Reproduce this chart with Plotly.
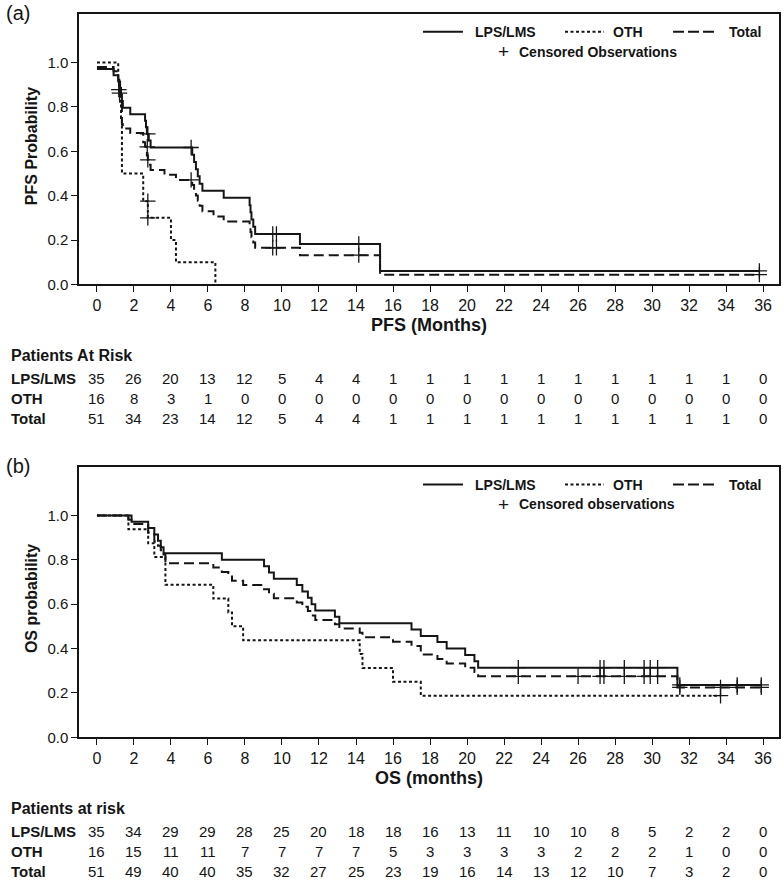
import plotly.graph_objects as go

W, H = 783, 893

# ---------------- data: panel (a) PFS ----------------
pfs_lps_t = [0, 0.9, 1.15, 1.25, 1.3, 1.35, 1.4, 1.8, 2.6, 2.65, 2.7, 2.8, 2.9, 5.15, 5.25, 5.35, 5.45,
             5.55, 5.7, 6.85, 8.25, 8.3, 8.35, 8.45, 8.55, 10.97, 15.3, 35.8]
pfs_lps_s = [0.971, 0.943, 0.914, 0.885, 0.855, 0.826, 0.796, 0.767, 0.737, 0.708, 0.678, 0.648, 0.617,
             0.584, 0.552, 0.519, 0.487, 0.454, 0.422, 0.390, 0.357, 0.325, 0.292, 0.260, 0.227, 0.182,
             0.061, 0.061]
pfs_lps_cens_t = [1.18, 2.75, 5.09, 9.5, 9.7, 14.15, 35.8]
pfs_lps_cens_s = [0.878, 0.678, 0.617, 0.227, 0.227, 0.182, 0.061]

pfs_oth_t = [0, 1.15, 1.2, 1.25, 1.3, 1.35, 2.5, 2.75, 4.0, 4.27, 6.4]
pfs_oth_s = [1.0, 0.9375, 0.875, 0.8125, 0.75, 0.5, 0.375, 0.30, 0.20, 0.10, 0.0]
pfs_oth_cens_t = [2.75, 2.75]
pfs_oth_cens_s = [0.375, 0.30]

pfs_tot_t = [0, 0.9, 1.15, 1.2, 1.25, 1.3, 1.35, 1.4, 1.8, 2.5, 2.6, 2.65, 2.7, 2.75, 2.8, 2.9, 3.65,
             4.27, 5.15, 5.25, 5.35, 5.45, 5.55, 5.7, 6.3, 6.85, 8.25, 8.3, 8.35, 8.45, 8.55, 10.97,
             15.3, 35.8]
pfs_tot_s = [0.980, 0.961, 0.922, 0.902, 0.862, 0.822, 0.722, 0.702, 0.682, 0.641, 0.621, 0.601, 0.581,
             0.561, 0.539, 0.516, 0.494, 0.471, 0.448, 0.424, 0.401, 0.377, 0.354, 0.330, 0.306, 0.283,
             0.259, 0.236, 0.212, 0.189, 0.165, 0.132, 0.044, 0.044]
pfs_tot_cens_t = [1.22, 2.72, 2.75, 5.09, 9.5, 9.7, 14.15, 35.8]
pfs_tot_cens_s = [0.862, 0.62, 0.561, 0.471, 0.165, 0.165, 0.132, 0.044]

# ---------------- data: panel (b) OS ----------------
os_lps_t = [0, 1.87, 2.77, 3.1, 3.3, 3.45, 3.6, 6.75, 9.03, 9.3, 9.56, 10.8, 11.1, 11.4, 11.6, 11.8,
            12.86, 13.1, 17.0, 17.5, 18.4, 18.9, 19.9, 20.4, 20.6, 31.37, 35.9]
os_lps_s = [1.0, 0.971, 0.943, 0.914, 0.886, 0.857, 0.829, 0.800, 0.771, 0.743, 0.714, 0.686, 0.657,
            0.629, 0.600, 0.571, 0.543, 0.514, 0.486, 0.457, 0.429, 0.400, 0.371, 0.343, 0.314, 0.236,
            0.236]
os_lps_cens_t = [22.77, 27.19, 27.4, 28.5, 29.57, 29.9, 30.3, 31.5, 34.6, 35.9]
os_lps_cens_s = [0.314, 0.314, 0.314, 0.314, 0.314, 0.314, 0.314, 0.236, 0.236, 0.236]

os_oth_t = [0, 1.7, 2.77, 3.1, 3.7, 6.29, 7.1, 7.3, 7.9, 14.2, 14.35, 16.0, 17.5, 33.7]
os_oth_s = [1.0, 0.9375, 0.875, 0.8125, 0.6875, 0.625, 0.5625, 0.5, 0.4375, 0.375, 0.3125, 0.25,
            0.1875, 0.1875]
os_oth_cens_t = [33.7]
os_oth_cens_s = [0.1875]

os_tot_t = [0, 1.7, 1.87, 2.77, 3.1, 3.3, 3.45, 3.6, 3.7, 6.29, 6.75, 7.1, 7.3, 7.9, 9.03, 9.3, 9.56,
            10.8, 11.1, 11.4, 11.6, 11.8, 12.86, 13.1, 14.2, 14.35, 16.0, 17.0, 17.5, 18.4, 18.9, 19.9,
            20.4, 20.6, 31.37, 35.9]
os_tot_s = [1.0, 0.980, 0.961, 0.922, 0.882, 0.863, 0.843, 0.824, 0.784, 0.765, 0.745, 0.725, 0.706,
            0.686, 0.667, 0.647, 0.627, 0.608, 0.588, 0.569, 0.549, 0.529, 0.510, 0.490, 0.471, 0.451,
            0.431, 0.412, 0.373, 0.353, 0.333, 0.314, 0.294, 0.275, 0.225, 0.225]
os_tot_cens_t = [22.77, 26.0, 27.19, 27.4, 28.5, 29.57, 29.9, 30.3, 31.5, 33.7, 34.6, 35.9]
os_tot_cens_s = [0.275, 0.275, 0.275, 0.275, 0.275, 0.275, 0.275, 0.275, 0.225, 0.225, 0.225, 0.225]

# ---------------- data: risk tables ----------------
risk_months = [0, 2, 4, 6, 8, 10, 12, 14, 16, 18, 20, 22, 24, 26, 28, 30, 32, 34, 36]
pfs_risk_lps = [35, 26, 20, 13, 12, 5, 4, 4, 1, 1, 1, 1, 1, 1, 1, 1, 1, 1, 0]
pfs_risk_oth = [16, 8, 3, 1, 0, 0, 0, 0, 0, 0, 0, 0, 0, 0, 0, 0, 0, 0, 0]
pfs_risk_tot = [51, 34, 23, 14, 12, 5, 4, 4, 1, 1, 1, 1, 1, 1, 1, 1, 1, 1, 0]
os_risk_lps = [35, 34, 29, 29, 28, 25, 20, 18, 18, 16, 13, 11, 10, 10, 8, 5, 2, 2, 0]
os_risk_oth = [16, 15, 11, 11, 7, 7, 7, 7, 5, 3, 3, 3, 3, 2, 2, 2, 1, 0, 0]
os_risk_tot = [51, 49, 40, 40, 35, 32, 27, 25, 23, 19, 16, 14, 13, 12, 10, 7, 3, 2, 0]
row_names = ["LPS/LMS", "OTH", "Total"]
y_ticks = [0.0, 0.2, 0.4, 0.6, 0.8, 1.0]

# ---------------- styling ----------------
INK = "#151515"
NARROW = "Liberation Sans Narrow, Arial Narrow, Liberation Sans, Arial, sans-serif"
SANS = "Liberation Sans, Arial, Helvetica, sans-serif"
DASH_OTH = "3px,2.5px"
DASH_TOT = "10px,5px"


def px(xp):
    return xp / W


def py(yp):
    return 1 - yp / H


fig = go.Figure()


def add_curve(t, s, dash, xa, ya):
    fig.add_trace(go.Scatter(x=t, y=s, mode="lines", line=dict(shape="hv", color=INK, width=2, dash=dash),
                             xaxis=xa, yaxis=ya, showlegend=False, hoverinfo="skip"))


def add_cens(t, s, xa, ya):
    fig.add_trace(go.Scatter(x=t, y=s, mode="markers",
                             marker=dict(symbol="cross-thin", size=11, line=dict(color=INK, width=1.3)),
                             xaxis=xa, yaxis=ya, showlegend=False, hoverinfo="skip"))


add_curve(pfs_oth_t, pfs_oth_s, DASH_OTH, "x", "y")
add_curve(pfs_tot_t, pfs_tot_s, DASH_TOT, "x", "y")
add_curve(pfs_lps_t, pfs_lps_s, "solid", "x", "y")
add_cens(pfs_oth_cens_t, pfs_oth_cens_s, "x", "y")
add_cens(pfs_tot_cens_t, pfs_tot_cens_s, "x", "y")
add_cens(pfs_lps_cens_t, pfs_lps_cens_s, "x", "y")

add_curve(os_oth_t, os_oth_s, DASH_OTH, "x2", "y2")
add_curve(os_tot_t, os_tot_s, DASH_TOT, "x2", "y2")
add_curve(os_lps_t, os_lps_s, "solid", "x2", "y2")
add_cens(os_oth_cens_t, os_oth_cens_s, "x2", "y2")
add_cens(os_tot_cens_t, os_tot_cens_s, "x2", "y2")
add_cens(os_lps_cens_t, os_lps_cens_s, "x2", "y2")

# panel geometry (pixels)
LEFT, RIGHT = 79, 779
PANELS = [dict(top=14, bottom=287), dict(top=471, bottom=744)]

xaxis_common = dict(range=[-0.97, 36.86], tickvals=risk_months, ticks="outside", ticklen=6, tickwidth=1.4,
                    tickcolor=INK, showline=True, linecolor=INK, linewidth=1.5, mirror=True,
                    showgrid=False, zeroline=False, tickfont=dict(family=NARROW, size=16, color=INK),
                    domain=[px(LEFT), px(RIGHT)], fixedrange=True)
yaxis_common = dict(range=[0, 1.219], tickvals=y_ticks, ticktext=["%.1f" % v for v in y_ticks],
                    ticks="outside", ticklen=6, tickwidth=1.4, tickcolor=INK, showline=True, linecolor=INK,
                    linewidth=1.5, mirror=True, showgrid=False, zeroline=False,
                    tickfont=dict(family=SANS, size=15, color=INK), fixedrange=True)

fig.update_layout(
    width=W, height=H, margin=dict(l=0, r=0, t=0, b=0),
    paper_bgcolor="white", plot_bgcolor="white",
    xaxis=dict(xaxis_common, anchor="y"),
    yaxis=dict(yaxis_common, anchor="x", domain=[py(PANELS[0]["bottom"]), py(PANELS[0]["top"])]),
    xaxis2=dict(xaxis_common, anchor="y2"),
    yaxis2=dict(yaxis_common, anchor="x2", domain=[py(PANELS[1]["bottom"]), py(PANELS[1]["top"])]),
)

ann = []
shapes = []


def text(x, y, s, size, family=SANS, xanchor="left", xref="paper", angle=0):
    ann.append(dict(x=x, y=y, xref=xref, yref="paper", text=s, showarrow=False, xanchor=xanchor,
                    yanchor="middle", textangle=angle, font=dict(family=family, size=size, color=INK)))


def seg(x0, x1, y, dash):
    shapes.append(dict(type="line", xref="paper", yref="paper", x0=px(x0), x1=px(x1), y0=py(y), y1=py(y),
                       line=dict(color=INK, width=2, dash=dash)))


panel_info = [
    dict(tag="(a)", ytitle="PFS Probability", xtitle="PFS (Months)", risk_title="Patients At Risk",
         cens="Censored Observations", xref="x",
         rows=[pfs_risk_lps, pfs_risk_oth, pfs_risk_tot]),
    dict(tag="(b)", ytitle="OS probability", xtitle="OS (months)", risk_title="Patients at risk",
         cens="Censored observations", xref="x2",
         rows=[os_risk_lps, os_risk_oth, os_risk_tot]),
]

for P, info in zip(PANELS, panel_info):
    top, bot = P["top"], P["bottom"]
    text(px(4), py(top - 1), info["tag"], 20)
    text(px(31), py((top + bot) / 2 - 3), "<b>%s</b>" % info["ytitle"], 16, angle=-90, xanchor="center")
    text(px((LEFT + RIGHT) / 2), py(bot + 41), "<b>%s</b>" % info["xtitle"], 18, family=NARROW,
         xanchor="center")
    # legend
    ly1, ly2 = top + 18, top + 38
    seg(423, 463, ly1, "solid")
    text(px(473), py(ly1), "<b>LPS/LMS</b>", 14)
    seg(565, 604, ly1, DASH_OTH)
    text(px(611), py(ly1), "<b>OTH</b>", 14)
    seg(673, 718, ly1, "11px,4px")
    text(px(727), py(ly1), "<b>Total</b>", 14)
    text(px(503), py(ly2), "+", 19, xanchor="center")
    text(px(517), py(ly2), "<b>%s</b>" % info["cens"], 14)
    # risk table
    text(px(9), py(bot + 72), "<b>%s</b>" % info["risk_title"], 16, family=NARROW)
    for k, (name, vals) in enumerate(zip(row_names, info["rows"])):
        yrow = py(bot + 95 + 20 * k)
        text(px(9), yrow, "<b>%s</b>" % name, 15, family=NARROW)
        for m, v in zip(risk_months, vals):
            text(m, yrow, str(v), 15, family=NARROW, xanchor="center", xref=info["xref"])

fig.update_layout(annotations=ann, shapes=shapes)
fig.write_html("out.html", config={"displayModeBar": False},
               post_script="document.body.style.margin='0';document.body.style.overflow='hidden';")
